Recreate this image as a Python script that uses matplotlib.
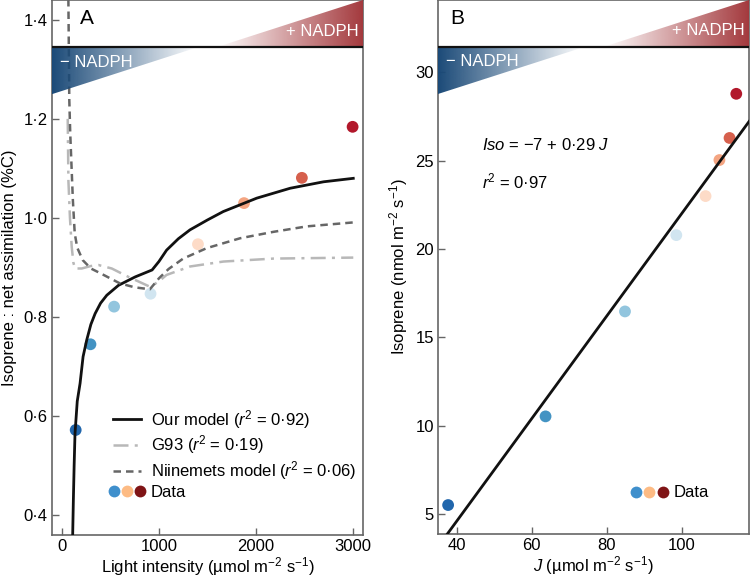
import numpy as np
import matplotlib
matplotlib.use("Agg")
import matplotlib.pyplot as plt
from matplotlib.colors import to_rgb
from matplotlib.lines import Line2D
from matplotlib.patches import Polygon
from matplotlib.legend_handler import HandlerTuple

plt.rcParams['font.family'] = ['Liberation Sans', 'DejaVu Sans']
plt.rcParams['mathtext.fontset'] = 'custom'
plt.rcParams['mathtext.rm'] = 'Liberation Sans'
plt.rcParams['mathtext.it'] = 'Liberation Sans:italic'
plt.rcParams['mathtext.default'] = 'it'

# ---- panel A data ----
light_obs = [144, 296, 539, 914, 1402, 1876, 2471, 2993]
ratio_obs = [0.572, 0.745, 0.821, 0.847, 0.947, 1.030, 1.081, 1.184]

our_x = [113, 120, 128, 137, 160, 189, 220, 258, 300, 344, 400, 464, 584, 756,
         930, 1000, 1079, 1200, 1320, 1500, 1663, 2007, 2351, 2694, 3000]
our_y = [0.36, 0.43, 0.50, 0.565, 0.63, 0.666, 0.72, 0.754, 0.785, 0.807, 0.828,
         0.844, 0.864, 0.881, 0.895, 0.912, 0.935, 0.958, 0.976, 0.996, 1.013,
         1.040, 1.060, 1.073, 1.080]

g93_x = [62, 69, 85, 103, 120, 137, 206, 300, 378, 515, 687, 910, 1000, 1079,
         1320, 1663, 2179, 3000]
g93_y = [1.20, 1.076, 1.00, 0.942, 0.91, 0.898, 0.898, 0.903, 0.905, 0.898,
         0.881, 0.861, 0.872, 0.885, 0.902, 0.912, 0.918, 0.920]

nii_x = [68, 78, 88, 115, 134, 160, 216, 300, 392, 598, 750, 907, 1000, 1100,
         1250, 1491, 1835, 2179, 2522, 3000]
nii_y = [1.46, 1.24, 1.17, 1.036, 0.969, 0.94, 0.915, 0.898, 0.889, 0.868,
         0.860, 0.856, 0.878, 0.897, 0.918, 0.939, 0.959, 0.972, 0.983, 0.991]

# ---- panel B data ----
j_obs = [37.7, 63.7, 84.9, 98.6, 106.4, 110.1, 112.8, 114.6]
iso_obs = [5.51, 10.53, 16.47, 20.79, 23.0, 25.04, 26.29, 28.79]
fit_j = [36, 118]
fit_iso = [3.44, 27.22]

point_colors = ['#2166ac', '#4393c3', '#92c5de', '#d1e5f0',
                '#fddbc7', '#f4a582', '#d6604d', '#b2182b']
legend_dot_colors = ['#3f8fcc', '#fdbb84', '#7f1416']

a_xticks = [0, 1000, 2000, 3000]
a_yticks = [0.4, 0.6, 0.8, 1.0, 1.2, 1.4]
a_yticklabels = ['0·4', '0·6', '0·8', '1·0', '1·2', '1·4']
b_xticks = [40, 60, 80, 100]
b_yticks = [5, 10, 15, 20, 25, 30]

SPINE = '#666666'
BLUE = '#1b4a78'
RED = '#a3383c'


def style_axes(ax):
    for s in ax.spines.values():
        s.set_color(SPINE)
        s.set_linewidth(1.2)
    ax.tick_params(direction='in', length=5, width=1, color=SPINE,
                   labelsize=12, pad=3)


def add_nadph_wedges(ax):
    div = 0.912
    h = 0.088
    tip = 0.47
    grad = np.linspace(0, 1, 256)

    img = np.zeros((1, 256, 4))
    img[..., :3] = to_rgb(BLUE)
    img[..., 3] = 1 - grad
    im = ax.imshow(img, extent=(0, tip, div - h, div), transform=ax.transAxes,
                   aspect='auto', zorder=4, interpolation='bilinear')
    tri = Polygon([(0, div), (0, div - h), (tip, div)], closed=True,
                  transform=ax.transAxes, fc='none', ec='none')
    ax.add_patch(tri)
    im.set_clip_path(tri)

    img2 = np.zeros((1, 256, 4))
    img2[..., :3] = to_rgb(RED)
    img2[..., 3] = grad
    im2 = ax.imshow(img2, extent=(1 - tip, 1, div, 1), transform=ax.transAxes,
                    aspect='auto', zorder=4, interpolation='bilinear')
    tri2 = Polygon([(1 - tip, div), (1, div), (1, 1)], closed=True,
                   transform=ax.transAxes, fc='none', ec='none')
    ax.add_patch(tri2)
    im2.set_clip_path(tri2)

    # divider between the two wedges, in axes coordinates
    ax.plot([0, 1], [div, div], transform=ax.transAxes, color='#111111',
            lw=1.6, zorder=5, solid_capstyle='butt')
    ax.text(0.026, 0.884, '− NADPH', transform=ax.transAxes, color='white',
            fontsize=12, ha='left', va='center', zorder=6)
    ax.text(0.985, 0.942, '+ NADPH', transform=ax.transAxes, color='white',
            fontsize=12, ha='right', va='center', zorder=6)


def data_legend(ax, x, y):
    dots = tuple(Line2D([], [], ls='none', marker='o', ms=8.5, color=c, mec='none')
                 for c in legend_dot_colors)
    leg = ax.legend([dots], ['Data'], handler_map={tuple: HandlerTuple(ndivide=None, pad=0)},
                    loc='center left', bbox_to_anchor=(x, y), frameon=False,
                    fontsize=12, handlelength=2.35, handletextpad=0.25,
                    borderpad=0, borderaxespad=0)
    return leg


fig = plt.figure(figsize=(7.5, 5.77), dpi=100)
axA = fig.add_axes([0.0693, 0.0728, 0.4147, 0.9272])
axB = fig.add_axes([0.584, 0.0745, 0.4147, 0.9255])

# ---- panel A ----
style_axes(axA)
add_nadph_wedges(axA)
l1, = axA.plot(our_x, our_y, color='#111111', lw=2, zorder=3)
l2, = axA.plot(g93_x, g93_y, color='#b8b8b8', lw=1.8, dashes=(6, 2.5, 1.2, 2.5), zorder=3)
l3, = axA.plot(nii_x, nii_y, color='#666666', lw=1.8, dashes=(3, 2), zorder=3)
axA.scatter(light_obs, ratio_obs, s=72, c=point_colors, edgecolors='none', zorder=2.5)
axA.set_xlim(-100, 3100)
axA.set_ylim(0.36, 1.44)
axA.set_xticks(a_xticks)
axA.set_yticks(a_yticks)
axA.set_yticklabels(a_yticklabels)
axA.set_xlabel('Light intensity (µmol m$\\mathregular{^{-2}}$ s$\\mathregular{^{-1}}$)',
               fontsize=12, labelpad=1)
axA.set_ylabel('Isoprene : net assimilation (%C)', fontsize=12, labelpad=5)
axA.text(0.09, 0.965, 'A', transform=axA.transAxes, fontsize=15,
         ha='left', va='center', zorder=6)

leg1 = axA.legend([l1, l2, l3],
                  ['Our model ($r$$\\mathregular{^2}$ = 0·92)',
                   'G93 ($r$$\\mathregular{^2}$ = 0·19)',
                   'Niinemets model ($r$$\\mathregular{^2}$ = 0·06)'],
                  loc='upper left', bbox_to_anchor=(0.196, 0.238), frameon=False,
                  fontsize=12, handlelength=1.7, handletextpad=0.6,
                  labelspacing=0.18, borderpad=0, borderaxespad=0)
axA.add_artist(leg1)
data_legend(axA, 0.178, 0.079)

# ---- panel B ----
style_axes(axB)
add_nadph_wedges(axB)
axB.plot(fit_j, fit_iso, color='#111111', lw=2, zorder=3)
axB.scatter(j_obs, iso_obs, s=72, c=point_colors, edgecolors='none', zorder=2.5)
axB.set_xlim(35, 118)
axB.set_ylim(3.87, 34.1)
axB.set_xticks(b_xticks)
axB.set_yticks(b_yticks)
axB.set_xlabel('$J$ (µmol m$\\mathregular{^{-2}}$ s$\\mathregular{^{-1}}$)',
               fontsize=12, labelpad=1)
axB.set_ylabel('Isoprene (nmol m$\\mathregular{^{-2}}$ s$\\mathregular{^{-1}}$)',
               fontsize=12, labelpad=4)
axB.text(0.04, 0.965, 'B', transform=axB.transAxes, fontsize=15,
         ha='left', va='center', zorder=6)
axB.text(0.14, 0.728, '$Iso$ = −7 + 0·29 $J$', transform=axB.transAxes,
         fontsize=12, ha='left', va='center')
axB.text(0.14, 0.66, '$r$$\\mathregular{^2}$ = 0·97', transform=axB.transAxes,
         fontsize=12, ha='left', va='center')
data_legend(axB, 0.617, 0.077)

fig.savefig('out.png', dpi=100)
